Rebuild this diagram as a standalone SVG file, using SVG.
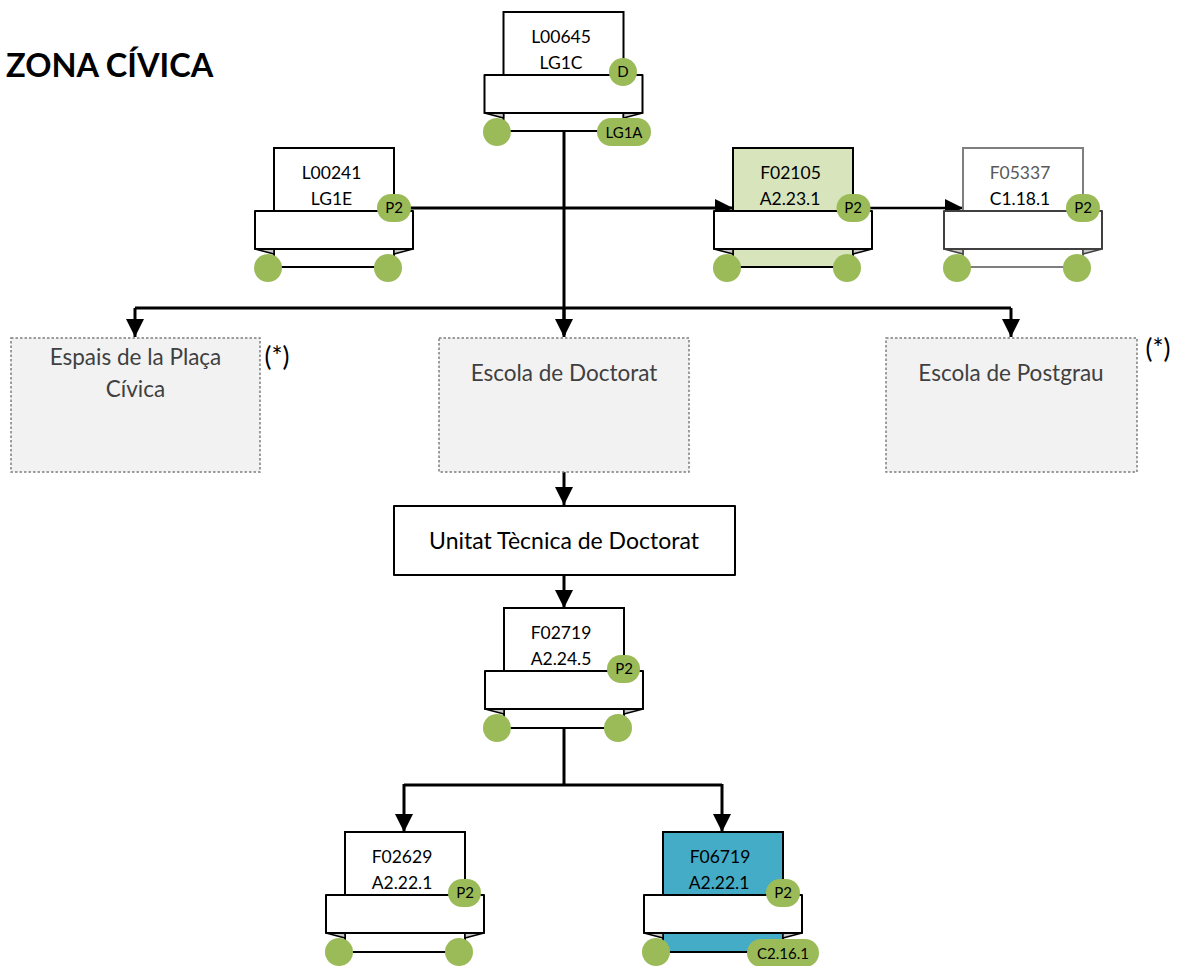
<svg xmlns="http://www.w3.org/2000/svg" width="1180" height="966" viewBox="0 0 1180 966">
<style>
text{font-family:Lato,"Open Sans","Liberation Sans",sans-serif;text-anchor:middle;fill:#000}
.t{font-size:17.5px}
.b{fill:#fff;stroke:#000;stroke-width:2}
.r{fill:#fff;stroke:#000;stroke-width:2;stroke-linejoin:round}
.w{fill:#c8c8c8;stroke:#000;stroke-width:1.5;stroke-linejoin:round}
.c{fill:#9bbb59}
.g{fill:#f2f2f2;stroke:#7f7f7f;stroke-width:1.5;stroke-dasharray:2.5 2}
.gt{font-size:22.5px;fill:#404040}
.l{fill:none;stroke:#000;stroke-width:3}
.l2{fill:none;stroke:#000;stroke-width:2.5}
</style>
<defs>
<marker id="a" markerUnits="userSpaceOnUse" markerWidth="20" markerHeight="18" refX="18" refY="9" orient="auto"><path d="M0,0L18,9L0,18Z" fill="#000"/></marker>
</defs>
<text x="6" y="77" style="font-size:32.5px;font-weight:700;text-anchor:start">ZONA CÍVICA</text>
<g id="connectors">
<path class="l" d="M564 131V335"/>
<path class="l" marker-end="url(#a)" d="M135 308V337"/>
<path class="l" d="M135 308H1011"/>
<path class="l" marker-end="url(#a)" d="M1011 308V337"/>
<path class="l" marker-end="url(#a)" d="M564 308V337"/>
<path class="l" marker-start="url(#a2)" marker-end="url(#a)" d="M400 208H733"/>
<path fill="#000" d="M412 200L394 208L412 216Z" opacity="0"/>
<path class="l2" marker-end="url(#a)" d="M860 208H963"/>
<path class="l" marker-end="url(#a)" d="M564 472V505"/>
<path class="l" marker-end="url(#a)" d="M564 575V608"/>
<path class="l" d="M564 728V784"/>
<path class="l" d="M404 785H722"/>
<path class="l" marker-end="url(#a)" d="M404 784V832"/>
<path class="l" marker-end="url(#a)" d="M722 784V832"/>
</g>
<g id="L00645">
<rect class="b" x="503.5" y="12" width="120" height="119"/>
<path class="w" d="M484.500 113L503.500 118V113Z"/><path class="w" d="M642.500 113L623.500 118V113Z"/>
<rect class="r" x="484.500" y="75" width="158" height="38"/>
<circle class="c" cx="497" cy="132" r="14"/><rect class="c" x="597" y="118" width="54" height="28" rx="14"/><circle class="c" cx="623" cy="72" r="14"/>
<text class="t" x="561" y="43">L00645</text><text class="t" x="561" y="69">LG1C</text>
<text x="623" y="77" style="font-size:15px">D</text><text x="624" y="138" style="font-size:15px">LG1A</text>
</g>
<g id="L00241">
<rect class="b" x="274" y="148" width="120" height="119"/>
<path class="w" d="M255 249L274 254V249Z"/><path class="w" d="M413 249L394 254V249Z"/>
<rect class="r" x="255" y="211" width="158" height="38"/>
<circle class="c" cx="268" cy="268" r="14"/><circle class="c" cx="388" cy="268" r="14"/><rect class="c" x="377" y="194" width="34" height="28" rx="14"/>
<text class="t" x="331.500" y="179">L00241</text><text class="t" x="331.500" y="205">LG1E</text>
<text x="394" y="213" style="font-size:15px">P2</text>
</g>
<g id="F02105">
<rect class="b" style="fill:#d8e4bc" x="733" y="148" width="120" height="119"/>
<path class="w" d="M714 249L733 254V249Z"/><path class="w" d="M872 249L853 254V249Z"/>
<rect class="r" x="714" y="211" width="158" height="38"/>
<circle class="c" cx="727" cy="268" r="14"/><circle class="c" cx="847" cy="268" r="14"/><rect class="c" x="836.500" y="194" width="34" height="28" rx="14"/>
<text class="t" x="790.500" y="179">F02105</text><text class="t" x="790" y="205">A2.23.1</text>
<text x="853" y="213" style="font-size:15px">P2</text>
</g>
<g id="F05337">
<rect class="b" style="stroke:#7f7f7f" x="963" y="148" width="120" height="119"/>
<path class="w" style="stroke:#404040" d="M944 249L963 254V249Z"/><path class="w" style="stroke:#404040" d="M1102 249L1083 254V249Z"/>
<rect class="r" style="stroke:#404040" x="944" y="211" width="158" height="38"/>
<circle class="c" cx="957" cy="268" r="14"/><circle class="c" cx="1077" cy="268" r="14"/><rect class="c" x="1066" y="194" width="34" height="28" rx="14"/>
<text class="t" style="fill:#595959" x="1020" y="179">F05337</text><text class="t" x="1020" y="205">C1.18.1</text>
<text x="1083" y="213" style="font-size:15px">P2</text>
</g>
<g id="espais">
<rect class="g" x="11" y="338" width="249" height="134"/>
<text class="gt" x="135.500" y="365">Espais de la Plaça</text><text class="gt" x="135.500" y="397">Cívica</text>
</g>
<text x="277" y="366" style="font-size:26px">(*)</text>
<g id="doctorat">
<rect class="g" x="439" y="338" width="250" height="134"/>
<text class="gt" x="564" y="381">Escola de Doctorat</text>
</g>
<g id="postgrau">
<rect class="g" x="886" y="338" width="251" height="134"/>
<text class="gt" x="1011" y="381">Escola de Postgrau</text>
</g>
<text x="1158" y="358" style="font-size:26px">(*)</text>
<g id="unitat">
<rect class="r" x="394" y="506" width="341" height="69"/>
<text x="564" y="549" style="font-size:23px">Unitat Tècnica de Doctorat</text>
</g>
<g id="F02719">
<rect class="b" x="504" y="608" width="120" height="120"/>
<path class="w" d="M485 709L504 714V709Z"/><path class="w" d="M643 709L624 714V709Z"/>
<rect class="r" x="485" y="671" width="158" height="38"/>
<circle class="c" cx="497" cy="728" r="14"/><circle class="c" cx="618" cy="728" r="14"/><rect class="c" x="607" y="655" width="33" height="28" rx="14"/>
<text class="t" x="561" y="639">F02719</text><text class="t" x="561" y="665">A2.24.5</text>
<text x="624" y="674" style="font-size:15px">P2</text>
</g>
<g id="F02629">
<rect class="b" x="345" y="832" width="120" height="120"/>
<path class="w" d="M326 933L345 938V933Z"/><path class="w" d="M484 933L465 938V933Z"/>
<rect class="r" x="326" y="895" width="158" height="38"/>
<circle class="c" cx="339" cy="952" r="14"/><circle class="c" cx="459" cy="952" r="14"/><rect class="c" x="448" y="879" width="33" height="28" rx="14"/>
<text class="t" x="402" y="863">F02629</text><text class="t" x="402" y="889">A2.22.1</text>
<text x="465" y="898" style="font-size:15px">P2</text>
</g>
<g id="F06719">
<rect class="b" style="fill:#45acc8" x="663" y="832" width="120" height="120"/>
<path class="w" d="M644 933L663 938V933Z"/><path class="w" d="M802 933L783 938V933Z"/>
<rect class="r" x="644" y="895" width="158" height="38"/>
<circle class="c" cx="656" cy="952" r="14"/><rect class="c" x="747" y="939" width="72" height="28" rx="14"/><rect class="c" x="766" y="879" width="34" height="28" rx="14"/>
<text class="t" x="720" y="863">F06719</text><text class="t" x="719" y="889">A2.22.1</text>
<text x="783" y="898" style="font-size:15px">P2</text><text x="783" y="959" style="font-size:15px">C2.16.1</text>
</g>
</svg>
